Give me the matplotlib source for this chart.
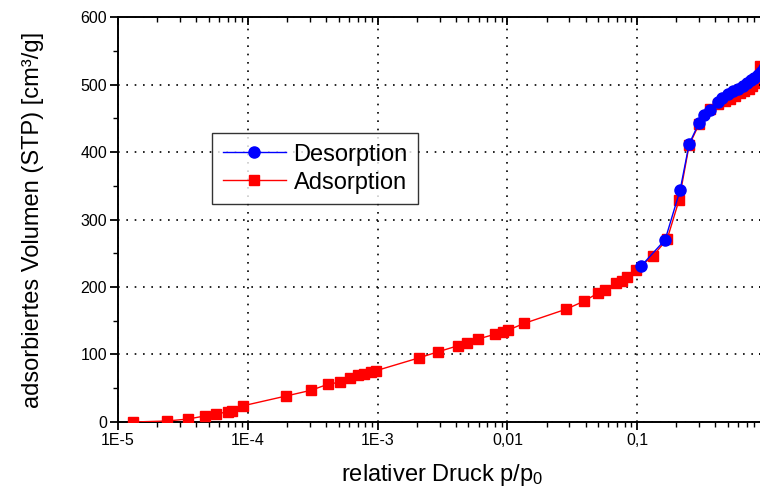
import matplotlib
matplotlib.use("Agg")
import matplotlib.pyplot as plt
from matplotlib.ticker import FixedLocator, LogLocator, MultipleLocator, NullFormatter

plt.rcParams['font.family'] = ['Liberation Sans', 'DejaVu Sans']
plt.rcParams['mathtext.fontset'] = 'custom'
plt.rcParams['mathtext.rm'] = 'Liberation Sans'
plt.rcParams['mathtext.it'] = 'Liberation Sans'

# Adsorption (red squares)
ads_p = [1.31e-5, 2.39e-5, 3.46e-5, 4.68e-5, 5.69e-5, 7.04e-5, 7.55e-5, 9.18e-5,
         1.97e-4, 3.07e-4, 4.15e-4, 5.13e-4, 6.12e-4, 7.06e-4, 7.85e-4, 8.89e-4, 9.72e-4,
         2.08e-3, 2.92e-3, 4.16e-3, 4.88e-3, 5.94e-3, 8.02e-3, 9.24e-3, 1.01e-2, 1.34e-2,
         2.82e-2, 3.89e-2, 4.99e-2, 5.65e-2, 6.87e-2, 7.64e-2, 8.34e-2, 9.79e-2,
         0.132, 0.170, 0.210, 0.251, 0.299, 0.364, 0.419, 0.47, 0.52, 0.57, 0.62,
         0.67, 0.72, 0.77, 0.82, 0.86, 0.89]
ads_v = [0, 1.5, 4.4, 9, 12, 15, 16, 24,
         38.5, 47, 56, 59, 65, 70, 71, 74, 76,
         95, 104, 113, 117, 123, 130, 133, 136, 146,
         167, 179, 191, 196, 206, 209, 215, 225,
         246, 271, 329, 410, 441, 464, 471, 475, 479, 483, 487,
         490, 494, 498, 502, 508, 527]

# Desorption (blue circles)
des_p = [0.107, 0.164, 0.214, 0.251, 0.299, 0.327, 0.364, 0.419, 0.45, 0.50,
         0.55, 0.60, 0.65, 0.70, 0.75, 0.80, 0.85, 0.90, 0.95, 0.99]
des_v = [231, 270, 344, 412, 443, 455, 462, 474, 480, 486,
         490, 494, 498, 502, 506, 510, 514, 519, 525, 535]

xticks = [1e-5, 1e-4, 1e-3, 1e-2, 1e-1, 1]
xticklabels = ['1E-5', '1E-4', '1E-3', '0,01', '0,1', '1']
yticks = [0, 100, 200, 300, 400, 500, 600]

fig = plt.figure(figsize=(7.6, 4.96), dpi=100)
ax = fig.add_axes([0.1553, 0.1492, 0.854, 0.8165])

ax.plot(ads_p, ads_v, color='red', lw=1.0, marker='s', ms=7.5, mec='red', mfc='red',
        label='Adsorption', zorder=3)
ax.plot(des_p, des_v, color='blue', lw=1.0, marker='o', ms=8, mec='blue', mfc='blue',
        label='Desorption', zorder=4)

ax.set_xscale('log')
ax.set_xlim(1e-5, 1)
ax.set_ylim(0, 600)
ax.xaxis.set_major_locator(FixedLocator(xticks))
ax.set_xticklabels(xticklabels)
ax.xaxis.set_minor_locator(LogLocator(base=10, subs=range(2, 10), numticks=50))
ax.xaxis.set_minor_formatter(NullFormatter())
ax.yaxis.set_major_locator(FixedLocator(yticks))
ax.yaxis.set_minor_locator(MultipleLocator(50))

ax.grid(True, which='major', color='black', linestyle=(0, (1, 4)), linewidth=1.2)
ax.tick_params(which='major', direction='out', length=6, width=1.3, labelsize=11.5,
               colors='black', pad=2)
ax.tick_params(which='minor', direction='out', length=3.5, width=1.0)
for s in ax.spines.values():
    s.set_linewidth(1.4)

# top / right ticks pointing inward
axt = ax.twiny()
axt.set_xscale('log')
axt.set_xlim(ax.get_xlim())
axt.xaxis.set_major_locator(FixedLocator(xticks))
axt.xaxis.set_minor_locator(LogLocator(base=10, subs=range(2, 10), numticks=50))
axt.xaxis.set_major_formatter(NullFormatter())
axt.xaxis.set_minor_formatter(NullFormatter())
axt.tick_params(which='major', direction='in', length=6, width=1.3)
axt.tick_params(which='minor', direction='in', length=3.5, width=1.0)
axr = ax.twinx()
axr.set_ylim(ax.get_ylim())
axr.yaxis.set_major_locator(FixedLocator(yticks))
axr.yaxis.set_minor_locator(MultipleLocator(50))
axr.yaxis.set_major_formatter(NullFormatter())
axr.tick_params(which='major', direction='in', length=6, width=1.3)
axr.tick_params(which='minor', direction='in', length=3.5, width=1.0)
for a in (axt, axr):
    for s in a.spines.values():
        s.set_visible(False)

ax.set_xlabel(r'relativer Druck p/p$_0$', fontsize=17, labelpad=10)
ax.set_ylabel('adsorbiertes Volumen (STP) [cm³/g]', fontsize=17, labelpad=26)

h, l = ax.get_legend_handles_labels()
leg = ax.legend([h[1], h[0]], [l[1], l[0]], loc='upper left',
                bbox_to_anchor=(212 / 760, 1 - 133 / 496), bbox_transform=fig.transFigure,
                fontsize=17, frameon=True, fancybox=False, edgecolor='black',
                handlelength=2.7, handletextpad=0.3, borderpad=0.45, labelspacing=0.25,
                borderaxespad=0)
leg.get_frame().set_linewidth(1.0)
leg.set_zorder(10)

fig.savefig('out.png', dpi=100)
